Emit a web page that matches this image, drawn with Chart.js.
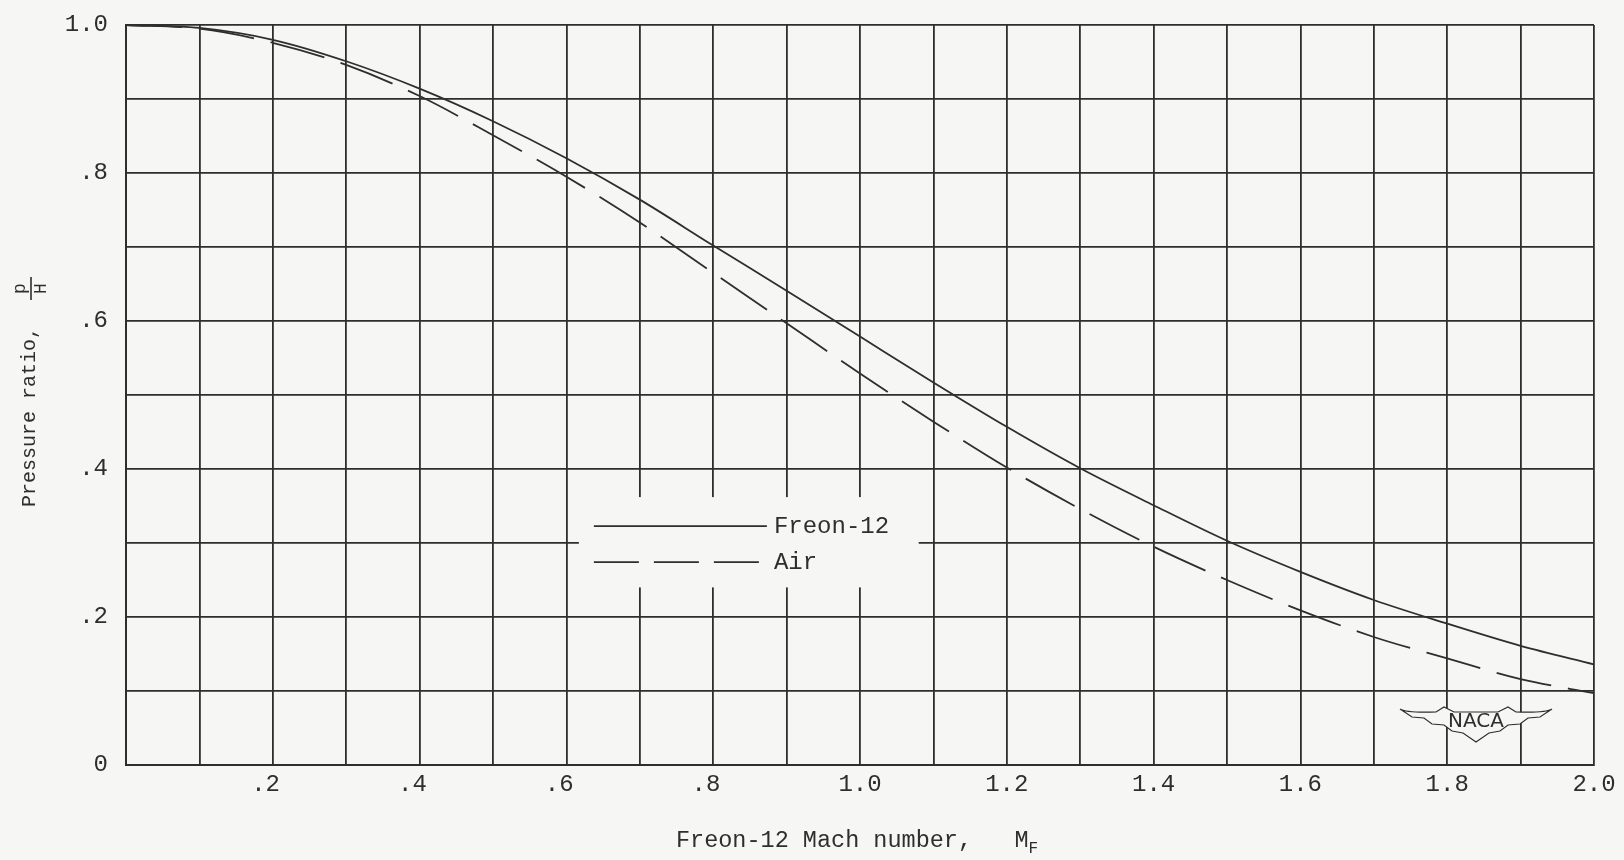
<!DOCTYPE html>
<html>
<head>
<meta charset="utf-8">
<script src="https://cdn.jsdelivr.net/npm/chart.js@4/dist/chart.umd.min.js"></script>
<style>
  html, body { margin: 0; padding: 0; background: #f6f6f4; }
  #wrap { width: 1624px; height: 860px; }
</style>
</head>
<body>
<div id="wrap"><canvas id="chart" width="1624" height="860"></canvas></div>
<script>
// Freon-12 Mach number
var machs = [0, 0.1, 0.2, 0.3, 0.4, 0.5, 0.6, 0.7, 0.8, 0.9, 1.0, 1.1, 1.2, 1.3, 1.4, 1.5, 1.6, 1.7, 1.8, 1.9, 2.0];
// pressure ratio p/H
var freon = [1.0, 0.996, 0.980, 0.951, 0.914, 0.870, 0.820, 0.764, 0.702, 0.641, 0.579, 0.517, 0.457, 0.401, 0.351, 0.303, 0.261, 0.223, 0.191, 0.161, 0.136];
var air = [1.0, 0.995, 0.976, 0.946, 0.904, 0.851, 0.795, 0.733, 0.665, 0.597, 0.529, 0.464, 0.402, 0.346, 0.295, 0.250, 0.209, 0.173, 0.144, 0.116, 0.097];

var yTicks = [0, 0.2, 0.4, 0.6, 0.8, 1.0];
var xTicks = [0.2, 0.4, 0.6, 0.8, 1.0, 1.2, 1.4, 1.6, 1.8, 2.0];

var ink = '#2e2e2e';
var paper = '#f6f6f4';
var mono = '"Liberation Mono", "DejaVu Sans Mono", monospace';

function pts(ys) {
    return machs.map(function (m, i) { return {x: m, y: ys[i]}; });
}

function fmt(v, pad) {
    if (v === 0) return '0';
    var s = v.toFixed(1);
    if (s.charAt(0) === '0') return s.slice(1) + (pad ? ' ' : '');
    return s;
}

function pick(list, pad) {
    return function (value) {
        var v = Math.round(value * 10) / 10;
        for (var i = 0; i < list.length; i++) {
            if (Math.abs(list[i] - v) < 1e-6) return fmt(v, pad);
        }
        return '';
    };
}

var paperPlugin = {
    id: 'paper',
    beforeDraw: function (chart) {
        var c = chart.ctx;
        c.save();
        c.fillStyle = paper;
        c.fillRect(0, 0, chart.width, chart.height);
        c.restore();
    }
};

// legend box, titles and NACA mark
var extras = {
    id: 'extras',
    afterDatasetsDraw: function (chart) {
        var c = chart.ctx;
        var xs = chart.scales.x, ys = chart.scales.y, a = chart.chartArea;
        c.save();

        // legend, blanked out over the grid
        var lx0 = xs.getPixelForValue(0.617), lx1 = xs.getPixelForValue(1.08);
        var ly0 = ys.getPixelForValue(0.362), ly1 = ys.getPixelForValue(0.240);
        c.fillStyle = paper;
        c.fillRect(lx0, ly0, lx1 - lx0, ly1 - ly0);
        var rows = [ly0 + 29, ly0 + 65];
        chart.data.datasets.forEach(function (ds, i) {
            c.strokeStyle = ink;
            c.lineWidth = 1.6;
            c.setLineDash(ds.borderDash ? [45, 15] : []);
            c.lineDashOffset = 0;
            c.beginPath();
            c.moveTo(lx0 + 15, rows[i]);
            c.lineTo(lx0 + 188, rows[i]);
            c.stroke();
            c.setLineDash([]);
            c.fillStyle = ink;
            c.font = '24px ' + mono;
            c.textBaseline = 'middle';
            c.textAlign = 'left';
            c.fillText(ds.label, lx0 + 195, rows[i] + 1);
        });

        // x title with subscript
        c.fillStyle = ink;
        c.textBaseline = 'alphabetic';
        c.font = '23.5px ' + mono;
        var t1 = 'Freon-12 Mach number,   M';
        var w1 = c.measureText(t1).width;
        c.font = '16px ' + mono;
        var w2 = c.measureText('F').width;
        var cx = (a.left + a.right) / 2 - 3;
        var sx = cx - (w1 + w2) / 2;
        c.font = '23.5px ' + mono;
        c.fillText(t1, sx, 847);
        c.font = '16px ' + mono;
        c.fillText('F', sx + w1, 853);

        // y title with p/H fraction, rotated
        c.save();
        c.translate(30, (a.top + a.bottom) / 2 - 3);
        c.rotate(-Math.PI / 2);
        c.font = '20px ' + mono;
        var yt = 'Pressure ratio,';
        var yw = c.measureText(yt).width;
        var gap = 27, fw = 23;
        var st = -(yw + gap + fw) / 2;
        c.textAlign = 'left';
        c.textBaseline = 'middle';
        c.fillText(yt, st, 0);
        c.font = '18px ' + mono;
        c.textAlign = 'center';
        var fx = st + yw + gap + fw / 2;
        c.fillText('p', fx, -10);
        c.fillText('H', fx, 11);
        c.strokeStyle = ink;
        c.lineWidth = 1.6;
        c.beginPath();
        c.moveTo(fx - fw / 2, 1);
        c.lineTo(fx + fw / 2, 1);
        c.stroke();
        c.restore();

        // NACA wings mark
        var nx = a.right - 118, ny = a.bottom - 42;
        c.beginPath();
        c.moveTo(nx - 76, ny - 14);
        c.quadraticCurveTo(nx - 70, ny - 10, nx - 40, ny - 11);
        c.lineTo(nx - 32, ny - 16);
        c.lineTo(nx - 22, ny - 11);
        c.lineTo(nx + 22, ny - 11);
        c.lineTo(nx + 32, ny - 16);
        c.lineTo(nx + 40, ny - 11);
        c.quadraticCurveTo(nx + 70, ny - 10, nx + 76, ny - 14);
        c.lineTo(nx + 64, ny - 6);
        c.lineTo(nx + 52, ny - 5);
        c.lineTo(nx + 44, ny + 1);
        c.lineTo(nx + 32, ny + 2);
        c.lineTo(nx + 24, ny + 8);
        c.lineTo(nx + 13, ny + 10);
        c.lineTo(nx, ny + 19);
        c.lineTo(nx - 13, ny + 10);
        c.lineTo(nx - 24, ny + 8);
        c.lineTo(nx - 32, ny + 2);
        c.lineTo(nx - 44, ny + 1);
        c.lineTo(nx - 52, ny - 5);
        c.lineTo(nx - 64, ny - 6);
        c.closePath();
        c.fillStyle = paper;
        c.fill();
        c.strokeStyle = ink;
        c.lineWidth = 1.2;
        c.stroke();
        c.fillStyle = ink;
        c.font = '500 20px "DejaVu Sans", sans-serif';
        c.textAlign = 'center';
        c.textBaseline = 'middle';
        c.fillText('NACA', nx, ny - 1);

        c.restore();
    }
};

var freonLine = {
    label: 'Freon-12',
    data: pts(freon),
    borderColor: ink,
    borderWidth: 1.8,
    pointRadius: 0,
    fill: false,
    cubicInterpolationMode: 'monotone'
};

var airLine = {
    label: 'Air',
    data: pts(air),
    borderColor: ink,
    borderWidth: 1.8,
    borderDash: [56, 17],
    pointRadius: 0,
    fill: false,
    cubicInterpolationMode: 'monotone'
};

var gridStyle = { color: ink, lineWidth: 1.8, drawTicks: false };

var chartData = {
    type: 'line',
    data: { datasets: [freonLine, airLine] },
    options: {
        responsive: false,
        animation: false,
        layout: { padding: { top: 25, right: 30, left: 0, bottom: 0 } },
        plugins: { legend: { display: false }, tooltip: { enabled: false } },
        scales: {
            x: {
                type: 'linear', min: 0, max: 2,
                grid: gridStyle,
                border: { color: ink, width: 2 },
                ticks: {
                    stepSize: 0.1, autoSkip: false, maxRotation: 0,
                    padding: 5, color: ink,
                    font: { family: mono, size: 24 },
                    callback: pick(xTicks, true)
                },
                afterFit: function (s) {
                    s.height = 95;
                    s.paddingLeft = 0;
                    s.paddingRight = 0;
                }
            },
            y: {
                type: 'linear', min: 0, max: 1,
                grid: gridStyle,
                border: { color: ink, width: 2 },
                ticks: {
                    stepSize: 0.1, autoSkip: false,
                    padding: 18, color: ink,
                    font: { family: mono, size: 24 },
                    callback: pick(yTicks, false)
                },
                afterFit: function (s) {
                    s.width = 126;
                    s.paddingTop = 0;
                    s.paddingBottom = 0;
                }
            }
        }
    },
    plugins: [paperPlugin, extras]
};

var myChart = new Chart(document.getElementById('chart').getContext('2d'), chartData);
</script>
</body>
</html>
